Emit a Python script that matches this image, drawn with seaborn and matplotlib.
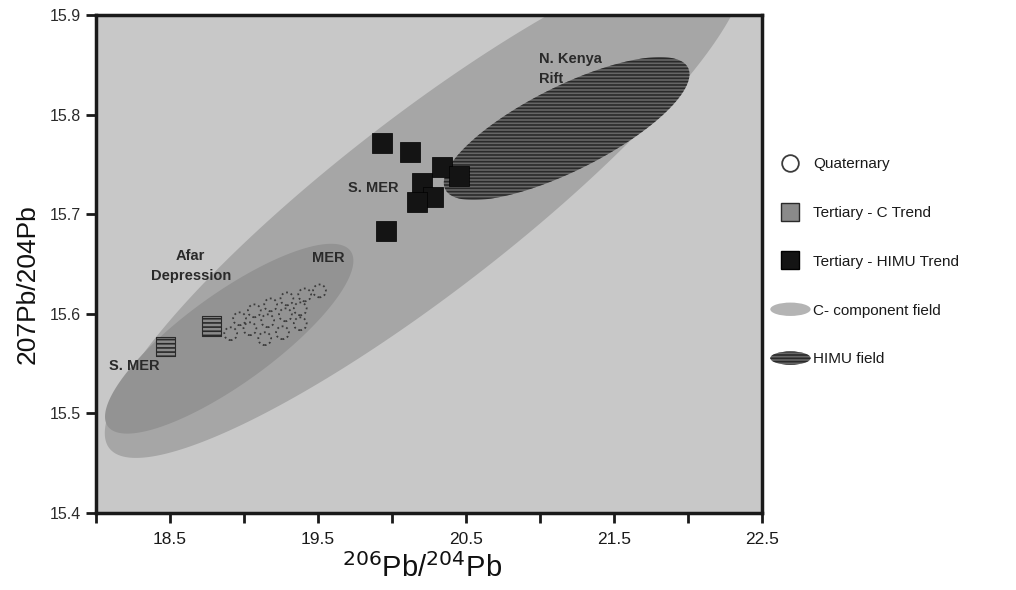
import numpy as np
import pandas as pd
import matplotlib
matplotlib.use('Agg')
import matplotlib.pyplot as plt
import seaborn as sns
from matplotlib.patches import Polygon, Ellipse
from matplotlib.lines import Line2D
from matplotlib.legend_handler import HandlerPatch

# ---------------- data ----------------
quaternary_x = [18.97, 19.07, 19.18, 19.29, 19.41, 19.51, 19.04, 19.16, 19.28, 19.38, 19.14, 19.26, 18.91, 19.38]
quaternary_y = [15.595, 15.603, 15.609, 15.615, 15.619, 15.623, 15.585, 15.593, 15.599, 15.605, 15.575, 15.581, 15.580, 15.590]

tertiary_c_x = [18.47, 18.78]
tertiary_c_y = [15.567, 15.588]

tertiary_himu_x = [19.93, 20.12, 20.34, 20.45, 20.20, 20.28, 20.17, 19.96]
tertiary_himu_y = [15.771, 15.762, 15.747, 15.738, 15.731, 15.717, 15.712, 15.683]

# fields: two ends of the long axis (data units) and width/length ratio
c_field_axis_x = [18.09, 22.35]
c_field_axis_y = [15.465, 15.955]
c_field_ratio = 0.22

afar_field_axis_x = [18.08, 19.72]
afar_field_axis_y = [15.487, 15.663]
afar_field_ratio = 0.30

himu_field_axis_x = [20.36, 22.00]
himu_field_axis_y = [15.725, 15.847]
himu_field_ratio = 0.31

x_ticks = [18.0, 18.5, 19.0, 19.5, 20.0, 20.5, 21.0, 21.5, 22.0, 22.5]
x_tick_labels = ['', '18.5', '', '19.5', '', '20.5', '', '21.5', '', '22.5']
y_ticks = [15.4, 15.5, 15.6, 15.7, 15.8, 15.9]
y_tick_labels = ['15.4', '15.5', '15.6', '15.7', '15.8', '15.9']

region_labels = ['N. Kenya\nRift', 'S. MER', 'MER', 'Afar\nDepression', 'S. MER']
region_x = [20.99, 19.87, 19.57, 18.64, 18.26]
region_y = [15.846, 15.726, 15.656, 15.648, 15.548]
region_ha = ['left', 'center', 'center', 'center', 'center']

legend_labels = ['Quaternary', 'Tertiary - C Trend', 'Tertiary - HIMU Trend',
                 'C- component field', 'HIMU field']

# ---------------- style ----------------
sns.set_style('ticks')
plt.rcParams['font.family'] = ['Liberation Sans', 'DejaVu Sans']
plt.rcParams['hatch.linewidth'] = 1.2

BG = '#c8c8c8'
C_COL = '#a6a6a6'
AFAR_COL = '#939393'
HIMU_COL = '#666666'
TXT = '#2a2a2a'

fig = plt.figure(figsize=(10.16, 5.90), dpi=100, facecolor='white')
ax = fig.add_axes([96 / 1016, 1 - 513 / 590, 666 / 1016, 498 / 590])
ax.set_xlim(18.0, 22.5)
ax.set_ylim(15.4, 15.9)
ax.set_facecolor(BG)


def field_polygon(ax, axis_x, axis_y, ratio, n=240):
    p = ax.transData.transform(np.column_stack([axis_x, axis_y]))
    c = p.mean(axis=0)
    d = p[1] - p[0]
    length = np.hypot(*d)
    u = d / length
    nrm = np.array([-u[1], u[0]])
    a = length / 2
    b = a * ratio
    t = np.linspace(0, 2 * np.pi, n)
    pts = c + np.outer(a * np.cos(t), u) + np.outer(b * np.sin(t), nrm)
    return ax.transData.inverted().transform(pts)


ax.add_patch(Polygon(field_polygon(ax, c_field_axis_x, c_field_axis_y, c_field_ratio),
                     closed=True, facecolor=C_COL, edgecolor='none', zorder=1))
ax.add_patch(Polygon(field_polygon(ax, afar_field_axis_x, afar_field_axis_y, afar_field_ratio),
                     closed=True, facecolor=AFAR_COL, edgecolor='none', zorder=1.2))
ax.add_patch(Polygon(field_polygon(ax, himu_field_axis_x, himu_field_axis_y, himu_field_ratio),
                     closed=True, facecolor=HIMU_COL, edgecolor='#2a2a2a', linewidth=0,
                     hatch='-----', zorder=1.5))

df_q = pd.DataFrame({'x': quaternary_x, 'y': quaternary_y})
df_c = pd.DataFrame({'x': tertiary_c_x, 'y': tertiary_c_y})
df_h = pd.DataFrame({'x': tertiary_himu_x, 'y': tertiary_himu_y})

sns.scatterplot(data=df_q, x='x', y='y', ax=ax, marker='o', s=85,
                facecolor='none', edgecolor='#3c3c3c', linewidth=1.3,
                linestyle=':', zorder=3, legend=False)
sns.scatterplot(data=df_c, x='x', y='y', ax=ax, marker='s', s=200,
                facecolor='#8a8a8a', edgecolor='#2a2a2a', linewidth=0.8,
                hatch='----', zorder=4, legend=False)
sns.scatterplot(data=df_h, x='x', y='y', ax=ax, marker='s', s=200,
                color='#141414', edgecolor='#000000', linewidth=0.5,
                zorder=5, legend=False)

for lab, lx, ly, ha in zip(region_labels, region_x, region_y, region_ha):
    ax.text(lx, ly, lab, ha=ha, va='center', fontsize=10.5, color=TXT,
            fontweight='bold', linespacing=1.5, zorder=6)

ax.set_xticks(x_ticks)
ax.set_xticklabels(x_tick_labels)
ax.set_yticks(y_ticks)
ax.set_yticklabels(y_tick_labels)
ax.tick_params(axis='x', direction='out', length=7, width=2, colors='#1a1a1a',
               labelsize=12.5, pad=7, labelcolor='#1a1a1a')
ax.tick_params(axis='y', direction='out', length=7, width=2, colors='#1a1a1a',
               labelsize=11.5, pad=4, labelcolor='#2a2a2a')
for sp in ax.spines.values():
    sp.set_linewidth(2.5)
    sp.set_color('#1a1a1a')
    sp.set_visible(True)

ax.set_xlabel(r'$^{206}$Pb/$^{204}$Pb', fontsize=21, color='#111111')
ax.set_ylabel('207Pb/204Pb', fontsize=19, color='#111111')
ax.xaxis.set_label_coords(0.49, -0.08)
ax.yaxis.set_label_coords(-0.085, 0.46)


class HandlerEllipse(HandlerPatch):
    def create_artists(self, legend, orig_handle, xdescent, ydescent, width,
                       height, fontsize, trans):
        center = (0.5 * width - xdescent, 0.5 * height - ydescent)
        p = Ellipse(xy=center, width=width * 1.1, height=height * 1.25)
        self.update_prop(p, orig_handle, legend)
        p.set_transform(trans)
        return [p]


h_quat = Line2D([], [], marker='o', linestyle='none', markersize=12,
                markerfacecolor='none', markeredgecolor='#3c3c3c', markeredgewidth=1.3)
h_c = Line2D([], [], marker='s', linestyle='none', markersize=13,
             markerfacecolor='#8a8a8a', markeredgecolor='#2a2a2a')
h_h = Line2D([], [], marker='s', linestyle='none', markersize=13,
             markerfacecolor='#141414', markeredgecolor='#000000')
h_cf = Ellipse((0, 0), 1, 1, facecolor='#b4b4b4', edgecolor='none')
h_hf = Ellipse((0, 0), 1, 1, facecolor=HIMU_COL, edgecolor='#2a2a2a', linewidth=0, hatch='-----')

leg = ax.legend([h_quat, h_c, h_h, h_cf, h_hf], legend_labels,
                handler_map={Ellipse: HandlerEllipse()},
                loc='upper left', bbox_to_anchor=(766 / 1016, 1 - 151 / 590),
                bbox_transform=fig.transFigure, frameon=False, fontsize=11,
                labelspacing=2.28, handlelength=2.4, handletextpad=0.3,
                borderaxespad=0)
for t in leg.get_texts():
    t.set_color('#1a1a1a')

fig.savefig('out.png', dpi=100, facecolor='white')
